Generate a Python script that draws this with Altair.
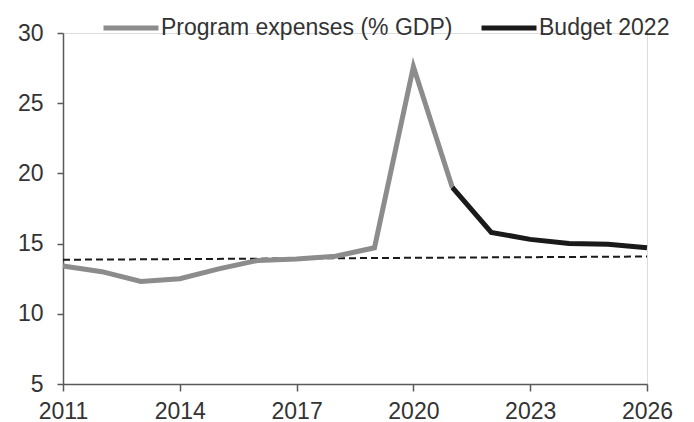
import altair as alt
import pandas as pd

# Program expenses as % of GDP, actuals and the 2022 budget projection
years_actual = [2011, 2012, 2013, 2014, 2015, 2016, 2017, 2018, 2019, 2020, 2021]
program_expenses = [13.4, 13.0, 12.3, 12.5, 13.2, 13.8, 13.9, 14.1, 14.7, 27.6, 19.0]

years_budget = [2021, 2022, 2023, 2024, 2025, 2026]
budget_2022 = [19.0, 15.8, 15.3, 15.0, 14.95, 14.7]

# Long-run trend line
trend_years = [2011, 2026]
trend_values = [13.85, 14.08]

series_names = ["Program expenses (% GDP)", "Budget 2022"]
series_colors = ["#8c8c8c", "#1a1a1a"]
x_ticks = [2011, 2014, 2017, 2020, 2023, 2026]
y_ticks = [5, 10, 15, 20, 25, 30]

FONT = "Liberation Sans"
TEXT = "#333333"
AXIS = "#595959"
FS = 23

lines_df = pd.concat([
    pd.DataFrame({"year": years_actual, "value": program_expenses, "series": series_names[0]}),
    pd.DataFrame({"year": years_budget, "value": budget_2022, "series": series_names[1]}),
])
trend_df = pd.DataFrame({"year": trend_years, "value": trend_values})

x_enc = alt.X(
    "year:Q",
    scale=alt.Scale(domain=[2011, 2026], nice=False, zero=False),
    axis=alt.Axis(values=x_ticks, format="d", title=None, grid=False,
                  labelFontSize=FS, labelFont=FONT, labelColor=TEXT,
                  domainColor=AXIS, tickColor=AXIS, domainWidth=1.5, tickWidth=1.5,
                  tickSize=7, labelPadding=9, labelFlush=False),
)
y_enc = alt.Y(
    "value:Q",
    scale=alt.Scale(domain=[5, 30], nice=False, zero=False),
    axis=alt.Axis(values=y_ticks, title=None, grid=False,
                  labelFontSize=FS, labelFont=FONT, labelColor=TEXT,
                  domainColor=AXIS, tickColor=AXIS, domainWidth=1.5, tickWidth=1.5,
                  tickSize=6, labelPadding=14),
)

trend = alt.Chart(trend_df).mark_line(
    color="#1a1a1a", strokeWidth=2, strokeDash=[7, 4]
).encode(x=x_enc, y=y_enc)

lines = alt.Chart(lines_df).mark_line(strokeWidth=5, strokeCap="butt").encode(
    x=x_enc,
    y=y_enc,
    color=alt.Color(
        "series:N",
        scale=alt.Scale(domain=series_names, range=series_colors),
        sort=series_names,
        legend=alt.Legend(
            title=None, orient="none", direction="horizontal",
            legendX=38, legendY=-35,
            symbolType="stroke", symbolSize=3025, symbolStrokeWidth=5,
            labelFontSize=FS, labelFont=FONT, labelColor=TEXT, labelLimit=500,
            labelOffset=0, columnPadding=18, symbolOffset=0, padding=0,
        ),
    ),
)

chart = alt.layer(trend, lines).properties(
    width=584,
    height=351,
    autosize=alt.AutoSizeParams(type="none"),
    padding={"left": 63, "top": 33, "right": 47, "bottom": 38},
).configure_view(stroke=None).configure(background="white")

chart.save("out.html", embed_options={"renderer": "svg", "actions": False})
